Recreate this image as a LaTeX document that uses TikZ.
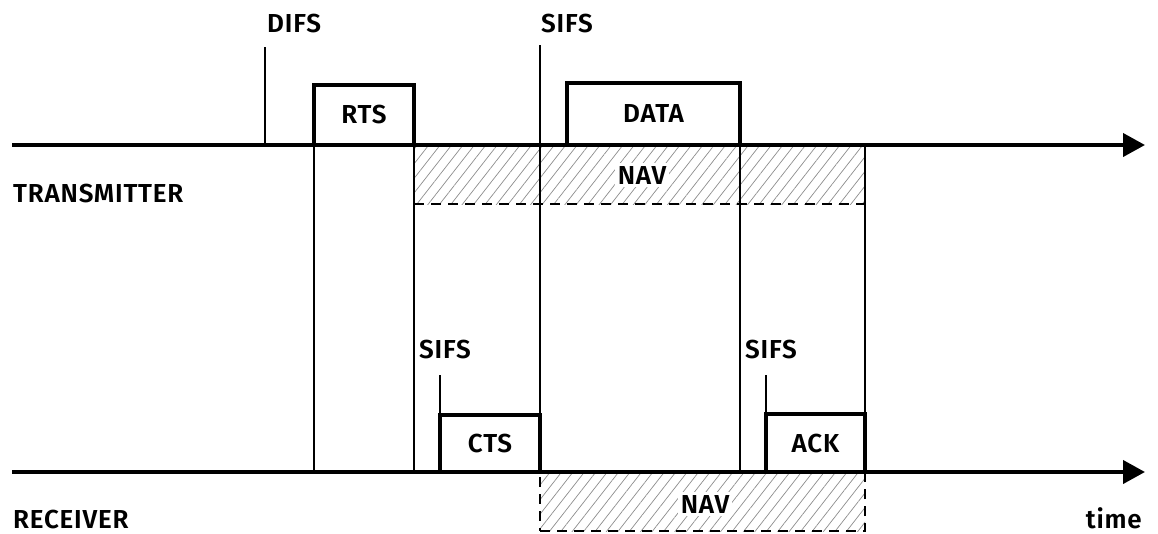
\documentclass[tikz,border=0pt]{standalone}
\usepackage{fontspec}
\setmainfont{Fira Sans}[BoldFont={Fira Sans SemiBold},LetterSpace=3]
\usetikzlibrary{arrows.meta,patterns.meta}
\begin{document}
\begin{tikzpicture}[x=1pt,y=-1pt,
  axis/.style={line width=4pt,-{Triangle[length=22pt,width=23pt]}},
  framebox/.style={draw,line width=4.5pt,inner sep=0pt,outer sep=0pt,anchor=south west,
    font=\fontsize{26}{26}\selectfont\bfseries},
  guide/.style={line width=1.8pt},
  navarea/.style={draw,line width=1.8pt,dash pattern=on 10pt off 7pt,inner sep=0pt,outer sep=0pt,
    anchor=north west,pattern={Lines[angle=52,distance=9pt,line width=0.7pt]},pattern color=black!45},
  navlabel/.style={fill=white,inner sep=3pt,font=\fontsize{26}{26}\selectfont\bfseries},
  lbl/.style={inner sep=0pt,font=\fontsize{26}{26}\selectfont\bfseries}]
\useasboundingbox (0,0) rectangle (1158,533);

% time axes
\coordinate (tx0) at (12,145);
\coordinate (tx1) at (1145,145);
\coordinate (rx0) at (12,472);
\coordinate (rx1) at (1145,472);

% network allocation vectors
\node[navarea,minimum width=451pt,minimum height=59pt] (navT) at (414,145) {};
\node[navarea,minimum width=325pt,minimum height=59pt] (navR) at (540,472) {};
\node[navlabel] (navTl) at (642,175) {NAV};
\node[navlabel] (navRl) at (705,504) {NAV};

% frames
\node[framebox,minimum width=100pt,minimum height=60pt] (rts) at (314,145) {RTS};
\node[framebox,minimum width=173pt,minimum height=62pt] (data) at (567,145) {DATA};
\node[framebox,minimum width=100pt,minimum height=57pt] (cts) at (440,472) {CTS};
\node[framebox,minimum width=99pt,minimum height=58pt] (ack) at (766,472) {ACK};

% interframe spaces
\node[lbl,anchor=base west] (difs) at (267,32) {DIFS};
\node[lbl,anchor=base west] (sifsA) at (541,32) {SIFS};
\node[lbl,anchor=base west] (sifsB) at (419,358) {SIFS};
\node[lbl,anchor=base west] (sifsC) at (745,358) {SIFS};
\coordinate (difsT) at (265,47);
\coordinate (sifsAT) at (540,45);
\coordinate (sifsBT) at (440,375);
\coordinate (sifsCT) at (766,375);

% guide lines
\draw[guide] (difsT) -- (difsT |- tx0);
\draw[guide] (sifsAT) -- (sifsAT |- rx0);
\draw[guide] (sifsBT) -- (cts.north west);
\draw[guide] (sifsCT) -- (ack.north west);
\draw[guide] (rts.south west) -- (rts.south west |- rx0);
\draw[guide] (rts.south east) -- (rts.south east |- rx0);
\draw[guide] (data.south east) -- (data.south east |- rx0);
\draw[guide] (navT.north east) -- (ack.south east);

% axes
\draw[axis] (tx0) -- (tx1);
\draw[axis] (rx0) -- (rx1);

% station names
\node[lbl,anchor=base west] (tx) at (13,202) {TRANSMITTER};
\node[lbl,anchor=base west] (rx) at (13,528) {RECEIVER};
\node[lbl,anchor=base east] (time) at (1142,528) {time};
\end{tikzpicture}
\end{document}
